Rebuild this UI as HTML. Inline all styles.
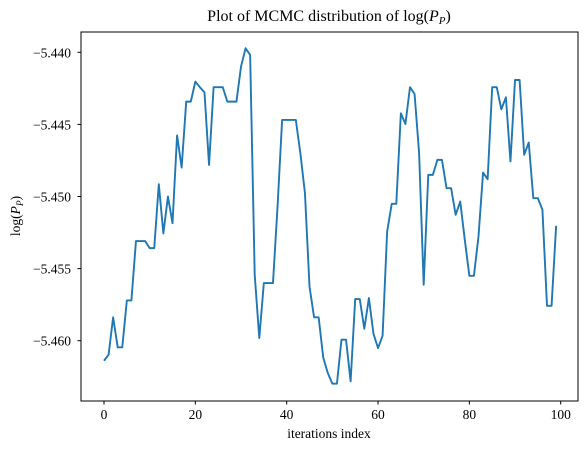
<!DOCTYPE html>
<html><head><meta charset="utf-8"><style>
html,body{margin:0;padding:0;background:#fff;}
svg text{font-family:"Liberation Serif","DejaVu Serif",serif;fill:#000;}
</style></head><body>
<svg id="chart" width="587" height="451" viewBox="0 0 587 451" xmlns="http://www.w3.org/2000/svg">
<rect width="587" height="451" fill="#fff"/>
<g id="ticks"></g>
<path id="series" fill="none" stroke="#1f77b4" stroke-width="1.9" stroke-linejoin="round"/>
<rect x="81" y="32" width="497" height="369" fill="none" stroke="#000" stroke-width="1"/>
<text x="329" y="21" font-size="16" text-anchor="middle">Plot of MCMC distribution of log(<tspan font-style="italic">P</tspan><tspan font-style="italic" font-size="11" dy="3">P</tspan><tspan dy="-3">)</tspan></text>
<text x="329" y="438" font-size="13.5" text-anchor="middle">iterations index</text>
<text transform="translate(20,216) rotate(-90)" font-size="13.5" text-anchor="middle">log(<tspan font-style="italic">P</tspan><tspan font-style="italic" font-size="9.5" dy="3">P</tspan><tspan dy="-3">)</tspan></text>
</svg>
<script>
const values = [-5.46139,-5.46097,-5.45838,-5.46046,-5.46046,-5.45721,-5.45721,-5.45309,-5.45309,-5.45309,
-5.45358,-5.45358,-5.44915,-5.45256,-5.45000,-5.45185,-5.44577,-5.44799,-5.44342,-5.44342,
-5.44203,-5.44242,-5.44277,-5.44781,-5.44242,-5.44242,-5.44242,-5.44342,-5.44342,-5.44342,
-5.44099,-5.43972,-5.44018,-5.45543,-5.45982,-5.45600,-5.45600,-5.45600,-5.45069,-5.44469,
-5.44469,-5.44469,-5.44469,-5.44700,-5.44977,-5.45624,-5.45838,-5.45838,-5.46116,-5.46224,
-5.46298,-5.46298,-5.45993,-5.45993,-5.46282,-5.45711,-5.45711,-5.45917,-5.45704,-5.45951,
-5.46051,-5.45965,-5.45243,-5.45051,-5.45051,-5.44423,-5.44497,-5.44242,-5.44289,-5.44700,
-5.45612,-5.44850,-5.44850,-5.44746,-5.44746,-5.44942,-5.44942,-5.45127,-5.45035,-5.45300,
-5.45550,-5.45550,-5.45277,-5.44834,-5.44880,-5.44242,-5.44242,-5.44395,-5.44312,-5.44757,
-5.44192,-5.44192,-5.44711,-5.44626,-5.45012,-5.45012,-5.45092,-5.45758,-5.45758,-5.45203];
const xTicks = [0,20,40,60,80,100];
const yTicks = [-5.440,-5.445,-5.450,-5.455,-5.460];

const xs = i => 104 + (i - 0) * 4.567;
const ys = v => 52.3 + (-5.440 - v) / 0.001 * 14.42;

const NS = "http://www.w3.org/2000/svg";
let d = "";
values.forEach((v,i)=>{ d += (i?"L":"M") + xs(i).toFixed(2) + "," + ys(v).toFixed(2); });
document.getElementById("series").setAttribute("d", d);

const g = document.getElementById("ticks");
xTicks.forEach(t=>{
  const l = document.createElementNS(NS,"line");
  
  
  l.setAttribute("x1",xs(t));l.setAttribute("x2",xs(t));l.setAttribute("y1",401);l.setAttribute("y2",404.5);l.setAttribute("stroke","#000");
  g.appendChild(l);
  const tx = document.createElementNS(NS,"text");
  
  
  tx.setAttribute("x",xs(t));tx.setAttribute("y",419);tx.setAttribute("font-size","13.5");tx.setAttribute("text-anchor","middle");
  tx.textContent = t;
  g.appendChild(tx);
});
yTicks.forEach(t=>{
  const l = document.createElementNS(NS,"line");
  
  
  l.setAttribute("x1",77.5);l.setAttribute("x2",81);l.setAttribute("y1",ys(t));l.setAttribute("y2",ys(t));l.setAttribute("stroke","#000");
  g.appendChild(l);
  const tx = document.createElementNS(NS,"text");
  
  
  tx.setAttribute("x",71);tx.setAttribute("y",ys(t)+5);tx.setAttribute("font-size","13.5");tx.setAttribute("text-anchor","end");
  tx.textContent = "\u2212" + Math.abs(t).toFixed(3);
  g.appendChild(tx);
});
</script>
</body></html>
